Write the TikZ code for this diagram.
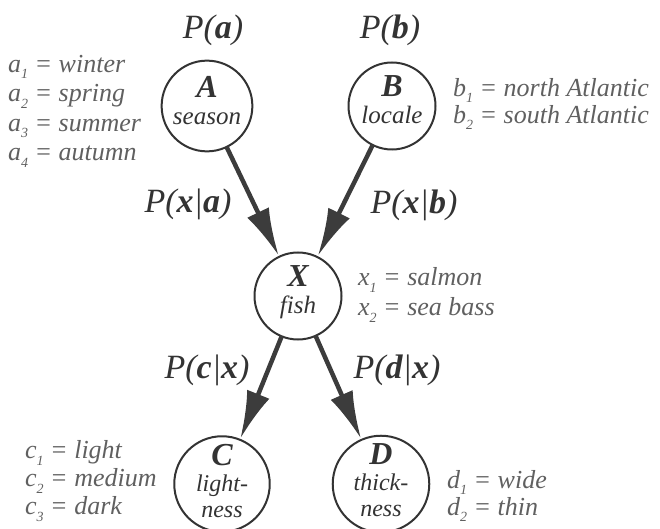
\documentclass[tikz,border=0pt]{standalone}
\usepackage{fontspec}
\setmainfont{Liberation Serif}
\usetikzlibrary{arrows.meta}
\definecolor{ink}{HTML}{333333}
\definecolor{txt}{HTML}{606060}
\definecolor{arr}{HTML}{3C3C3C}
\newcommand\vsb[2]{#1\raisebox{-0.55ex}{\fontsize{14}{14}\selectfont #2}}
\newcommand\pbold[1]{\textbf{\textit{#1}}}
\newcommand\varletter[1]{{\fontsize{32}{26}\selectfont\bfseries\itshape #1}}
\newcommand\mydepth[1]{\rule[-#1]{0pt}{#1}}
\begin{document}
\begin{tikzpicture}[x=1pt,y=-1pt,
  var/.style={circle,draw=ink,line width=2pt,minimum size=87pt,inner sep=0pt,align=center,text=ink,font=\fontsize{25}{27}\selectfont\itshape},
  var3/.style={var,font=\fontsize{24}{26}\selectfont\itshape},
  prob/.style={text=ink,font=\fontsize{34}{34}\selectfont\itshape,inner sep=0pt},
  vals/.style={text=txt,align=left,anchor=west,inner sep=0pt},
  link/.style={draw=arr,line width=4.5pt,-{Latex[length=48pt,width=24pt]},shorten <=-1pt}]
\useasboundingbox (0,0) rectangle (660,529);
% variable nodes
\node[var] (A) at (207,106) {\varletter{A}\\season\mydepth{12pt}};
\node[var] (B) at (392,106) {\varletter{B}\\locale\mydepth{12pt}};
\node[var] (X) at (298,296) {\varletter{X}\\fish\mydepth{12pt}};
\node[var3] (C) at (222,484) {\varletter{C}\\light-\\ness\mydepth{7pt}};
\node[var3] (D) at (381,484) {\varletter{D}\\thick-\\ness\mydepth{7pt}};
% probability labels
\node[prob] (pa) at (213,30) {P(\pbold{a})};
\node[prob] (pb) at (390,30) {P(\pbold{b})};
\node[prob] (pxa) at (188,204) {P(\pbold{x}|\pbold{a})};
\node[prob] (pxb) at (414,205) {P(\pbold{x}|\pbold{b})};
\node[prob] (pcx) at (207,370) {P(\pbold{c}|\pbold{x})};
\node[prob] (pdx) at (397,370) {P(\pbold{d}|\pbold{x})};
% value lists
\node[vals,font=\fontsize{26}{29.5}\selectfont\itshape] (la) at (8,111) {\vsb{a}{1} = winter\\ \vsb{a}{2} = spring\\ \vsb{a}{3} = summer\\ \vsb{a}{4} = autumn};
\node[vals,font=\fontsize{26}{27}\selectfont\itshape] (lb) at (453,104) {\vsb{b}{1} = north Atlantic\\ \vsb{b}{2} = south Atlantic};
\node[vals,font=\fontsize{26}{30}\selectfont\itshape] (lx) at (358,295) {\vsb{x}{1} = salmon\\ \vsb{x}{2} = sea bass};
\node[vals,font=\fontsize{26}{28}\selectfont\itshape] (lc) at (25,481) {\vsb{c}{1} = light\\ \vsb{c}{2} = medium\\ \vsb{c}{3} = dark};
\node[vals,font=\fontsize{26}{27}\selectfont\itshape] (ld) at (447,496) {\vsb{d}{1} = wide\\ \vsb{d}{2} = thin};
% links
\draw[link] (A) -- (X);
\draw[link] (B) -- (X);
\draw[link] (X) -- (C);
\draw[link] (X) -- (D);
\end{tikzpicture}
\end{document}
